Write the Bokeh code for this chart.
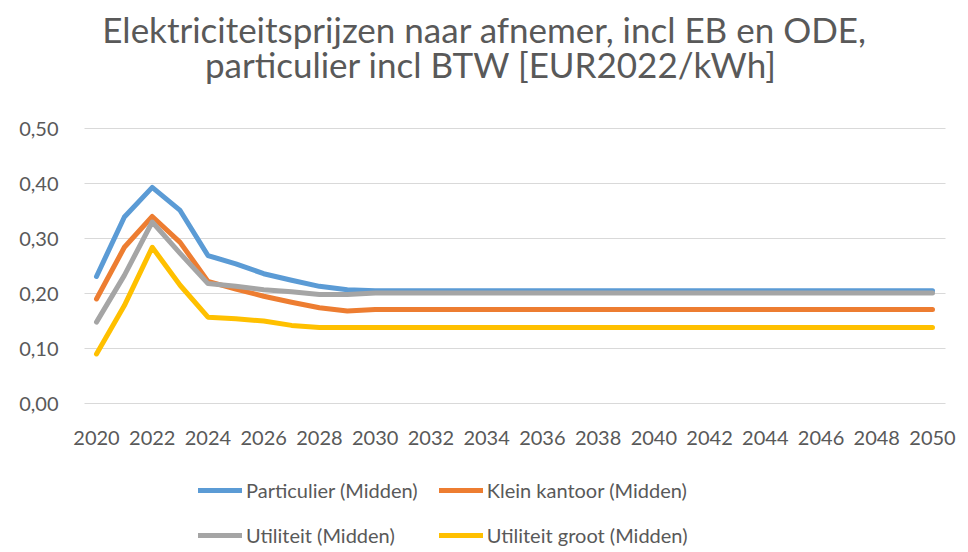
from bokeh.plotting import figure
from bokeh.models import Range1d, FixedTicker, CustomJSTickFormatter, Legend, LegendItem, Label
from bokeh.embed import file_html
from bokeh.resources import INLINE

years = list(range(2020, 2051))
particulier = [0.231, 0.339, 0.393, 0.351, 0.269, 0.254, 0.236, 0.224, 0.213, 0.207,
               0.205, 0.205, 0.205, 0.205, 0.205, 0.205, 0.205, 0.205, 0.205, 0.205,
               0.205, 0.205, 0.205, 0.205, 0.205, 0.205, 0.205, 0.205, 0.205, 0.205, 0.205]
klein_kantoor = [0.190, 0.284, 0.340, 0.293, 0.222, 0.208, 0.195, 0.184, 0.174, 0.168,
                 0.171, 0.171, 0.171, 0.171, 0.171, 0.171, 0.171, 0.171, 0.171, 0.171,
                 0.171, 0.171, 0.171, 0.171, 0.171, 0.171, 0.171, 0.171, 0.171, 0.171, 0.171]
utiliteit = [0.148, 0.233, 0.330, 0.273, 0.218, 0.213, 0.207, 0.203, 0.198, 0.198,
             0.201, 0.201, 0.201, 0.201, 0.201, 0.201, 0.201, 0.201, 0.201, 0.201,
             0.201, 0.201, 0.201, 0.201, 0.201, 0.201, 0.201, 0.201, 0.201, 0.201, 0.201]
utiliteit_groot = [0.090, 0.178, 0.284, 0.215, 0.157, 0.154, 0.150, 0.142, 0.138, 0.138,
                   0.138, 0.138, 0.138, 0.138, 0.138, 0.138, 0.138, 0.138, 0.138, 0.138,
                   0.138, 0.138, 0.138, 0.138, 0.138, 0.138, 0.138, 0.138, 0.138, 0.138, 0.138]

series_names = ["Particulier (Midden)", "Klein kantoor (Midden)",
                "Utiliteit (Midden)", "Utiliteit groot (Midden)"]
series_values = [particulier, klein_kantoor, utiliteit, utiliteit_groot]
series_colors = ["#5B9BD5", "#ED7D31", "#A5A5A5", "#FFC000"]
x_ticks = years[::2]
y_ticks = [0.0, 0.1, 0.2, 0.3, 0.4, 0.5]
title_lines = ["Elektriciteitsprijzen naar afnemer, incl EB en ODE,",
               "particulier incl BTW [EUR2022/kWh]"]

TXT = "#595959"
FONT = "Lato"

W, H = 960, 552
# pixel geometry of the plot area (canvas coordinates)
PX_2020, PX_2050 = 96.0, 932.0
PLOT_L, PLOT_R = 84.0, 945.0
PX_Y0, PX_PER_UNIT = 403.0, 550.0
sx = (PX_2050 - PX_2020) / (years[-1] - years[0])
x_start = years[0] - PX_2020 / sx
x_end = years[0] + (W - PX_2020) / sx
plot_x0 = years[0] - (PX_2020 - PLOT_L) / sx
plot_x1 = years[-1] + (PLOT_R - PX_2050) / sx

def xdata(px):
    return x_start + px / sx

def ydata(py):
    return (PX_Y0 - py) / PX_PER_UNIT

p = figure(width=W, height=H, output_backend="svg", toolbar_location=None,
           x_range=Range1d(x_start, x_end),
           y_range=Range1d(ydata(H), ydata(0)),
           min_border_left=0, min_border_right=0, min_border_top=0,
           min_border_bottom=0, title=None)
p.outline_line_color = None
p.background_fill_color = "white"
p.border_fill_color = "white"

# horizontal gridlines limited to the plot area
p.segment(x0=[plot_x0] * len(y_ticks), x1=[plot_x1] * len(y_ticks), y0=y_ticks, y1=y_ticks,
          line_color="#D9D9D9", line_width=1, level="underlay")

# title (two centred lines)
p.add_layout(Label(x=xdata(484), y=ydata(28), text=title_lines[0], text_align="center",
                   text_baseline="alphabetic", text_font=FONT, text_font_size="35px",
                   text_color=TXT))
p.add_layout(Label(x=xdata(490.5), y=ydata(63), text=title_lines[1], text_align="center",
                   text_baseline="alphabetic", text_font=FONT, text_font_size="35px",
                   text_color=TXT))

renderers = []
for vals, col in zip(series_values, series_colors):
    r = p.line(years, vals, line_color=col, line_width=5, line_cap="round", line_join="round")
    renderers.append(r)

p.xaxis.ticker = FixedTicker(ticks=x_ticks)
p.xaxis.fixed_location = 0
p.yaxis.ticker = FixedTicker(ticks=y_ticks)
p.yaxis.fixed_location = plot_x0
p.yaxis.formatter = CustomJSTickFormatter(code="return tick.toFixed(2).replace('.', ',');")
for ax in (p.xaxis, p.yaxis):
    ax.axis_line_color = None
    ax.major_tick_line_color = None
    ax.minor_tick_line_color = None
    ax.major_tick_out = 0
    ax.major_tick_in = 0
    ax.minor_tick_out = 0
    ax.minor_tick_in = 0
    ax.major_label_text_font = FONT
    ax.major_label_text_font_size = "20px"
    ax.major_label_text_color = TXT
p.xaxis.major_label_standoff = 27
p.yaxis.major_label_standoff = 26

p.xgrid.grid_line_color = None
p.ygrid.grid_line_color = None

legend = Legend(items=[LegendItem(label=n, renderers=[r]) for n, r in zip(series_names, renderers)],
                orientation="horizontal", ncols=2, location=(198, 5),
                border_line_color=None, background_fill_alpha=0,
                label_text_font=FONT, label_text_font_size="20px", label_text_color=TXT,
                glyph_width=44, glyph_height=20, label_standoff=4, spacing=21,
                padding=0, margin=0)
p.add_layout(legend, "center")

open("out.html", "w").write(file_html(p, INLINE))
